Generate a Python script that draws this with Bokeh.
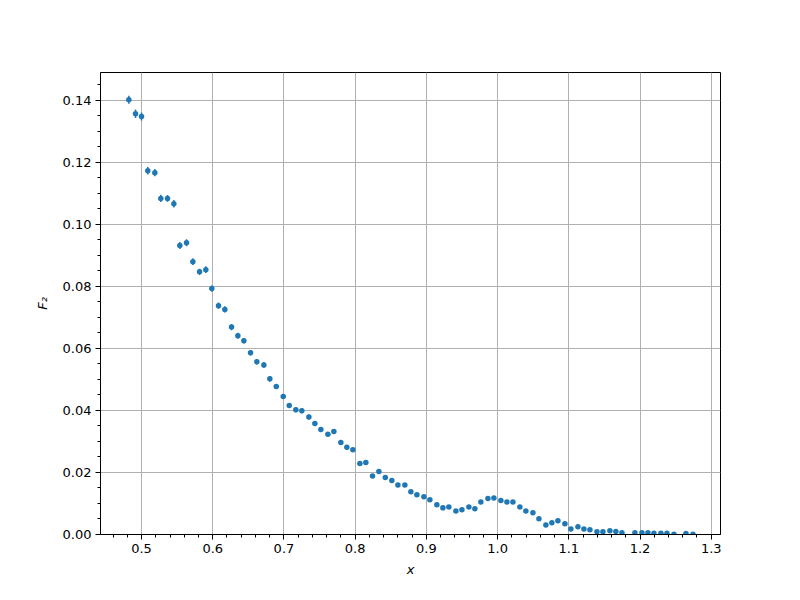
from bokeh.plotting import figure
from bokeh.models import FixedTicker, NumeralTickFormatter, ColumnDataSource
from bokeh.embed import file_html
from bokeh.resources import INLINE

x_vals = [0.4822, 0.4916, 0.5000, 0.5088, 0.5187, 0.5271, 0.5365, 0.5454, 0.5538, 0.5632,
          0.5721, 0.5815, 0.5903, 0.5987, 0.6081, 0.6170, 0.6264, 0.6353, 0.6437, 0.6531,
          0.6619, 0.6718, 0.6802, 0.6892, 0.6990, 0.7074, 0.7167, 0.7251, 0.7350, 0.7434,
          0.7518, 0.7617, 0.7701, 0.7799, 0.7883, 0.7968, 0.8066, 0.8150, 0.8244, 0.8333,
          0.8423, 0.8515, 0.8600, 0.8698, 0.8782, 0.8867, 0.8965, 0.9049, 0.9147, 0.9232,
          0.9316, 0.9414, 0.9499, 0.9597, 0.9681, 0.9765, 0.9864, 0.9948, 1.0046, 1.0131,
          1.0215, 1.0313, 1.0397, 1.0496, 1.0580, 1.0678, 1.0762, 1.0847, 1.0945, 1.1029,
          1.1128, 1.1212, 1.1296, 1.1395, 1.1479, 1.1577, 1.1661, 1.1746, 1.1928, 1.2027,
          1.2111, 1.2195, 1.2294, 1.2378, 1.2476, 1.2645, 1.2743]

f2_vals = [0.1402, 0.1357, 0.1348, 0.1173, 0.1167, 0.1084, 0.1084, 0.1067, 0.0932, 0.0941,
           0.0880, 0.0847, 0.0854, 0.0793, 0.0738, 0.0726, 0.0669, 0.0641, 0.0625, 0.0586,
           0.0557, 0.0547, 0.0502, 0.0477, 0.0445, 0.0416, 0.0402, 0.0399, 0.0379, 0.0358,
           0.0339, 0.0323, 0.0332, 0.0297, 0.0281, 0.0273, 0.0229, 0.0232, 0.0189, 0.0203,
           0.0184, 0.0174, 0.0160, 0.0160, 0.0138, 0.0128, 0.0122, 0.0112, 0.0096, 0.0086,
           0.0089, 0.0076, 0.0080, 0.0089, 0.0083, 0.0105, 0.0116, 0.0118, 0.0110, 0.0105,
           0.0105, 0.0089, 0.0076, 0.0070, 0.0051, 0.0031, 0.0038, 0.0044, 0.0035, 0.0018,
           0.0025, 0.0018, 0.0015, 0.0009, 0.0009, 0.0012, 0.0010, 0.0006, 0.0006, 0.0006,
           0.0006, 0.0004, 0.0004, 0.0004, 0.0001, 0.0003, 0.0001]

f2_err = [0.0013, 0.0014, 0.0013, 0.0012, 0.0012, 0.0012, 0.0011, 0.0012, 0.0011, 0.0011,
          0.0011, 0.0010, 0.0011, 0.0010, 0.0010, 0.0010, 0.0010, 0.0010, 0.0009, 0.0009,
          0.0009, 0.0009, 0.0009, 0.0008, 0.0008, 0.0008, 0.0008, 0.0008, 0.0008, 0.0008,
          0.0008, 0.0007, 0.0007, 0.0007, 0.0007, 0.0007, 0.0006, 0.0006, 0.0006, 0.0006,
          0.0006, 0.0006, 0.0005, 0.0005, 0.0005, 0.0005, 0.0005, 0.0005, 0.0004, 0.0004,
          0.0004, 0.0004, 0.0004, 0.0004, 0.0004, 0.0004, 0.0004, 0.0004, 0.0004, 0.0004,
          0.0004, 0.0004, 0.0004, 0.0003, 0.0003, 0.0003, 0.0003, 0.0003, 0.0003, 0.0003,
          0.0003, 0.0003, 0.0003, 0.0002, 0.0002, 0.0002, 0.0002, 0.0002, 0.0002, 0.0002,
          0.0002, 0.0002, 0.0002, 0.0002, 0.0002, 0.0002, 0.0002]

x_major = [0.5, 0.6, 0.7, 0.8, 0.9, 1.0, 1.1, 1.2, 1.3]
y_major = [0.0, 0.02, 0.04, 0.06, 0.08, 0.10, 0.12, 0.14]

src = ColumnDataSource(dict(
    x=x_vals, y=f2_vals,
    lo=[v - e for v, e in zip(f2_vals, f2_err)],
    hi=[v + e for v, e in zip(f2_vals, f2_err)],
))

FONT = "DejaVu Sans"
COLOR = "#1f77b4"

p = figure(frame_width=620, frame_height=462,
           min_border_left=100, min_border_top=72, min_border_right=72, min_border_bottom=58,
           x_range=(0.4424, 1.313), y_range=(0.0, 0.149),
           output_backend="svg", toolbar_location=None,
           background_fill_color="white", border_fill_color="white")

p.segment(x0="x", y0="lo", x1="x", y1="hi", source=src, line_color=COLOR, line_width=1.5)
p.scatter(x="x", y="y", source=src, size=5.5, fill_color=COLOR, line_color=COLOR, line_width=0)

p.outline_line_color = "black"
p.outline_line_width = 1
p.outline_line_alpha = 1

p.xaxis.ticker = FixedTicker(ticks=x_major,
                             minor_ticks=[round(0.44 + 0.02 * i, 2) for i in range(44)])
p.yaxis.ticker = FixedTicker(ticks=y_major,
                             minor_ticks=[round(0.005 * i, 3) for i in range(30)])
p.xaxis.formatter = NumeralTickFormatter(format="0.0")
p.yaxis.formatter = NumeralTickFormatter(format="0.00")

for ax in (p.xaxis, p.yaxis):
    ax.axis_line_color = "black"
    ax.axis_line_width = 1
    ax.major_tick_out = 5
    ax.major_tick_in = 0
    ax.minor_tick_out = 3
    ax.minor_tick_in = 0
    ax.major_tick_line_color = "black"
    ax.minor_tick_line_color = "black"
    ax.major_label_text_font = FONT
    ax.major_label_text_font_size = "13px"
    ax.major_label_text_color = "black"
    ax.axis_label_text_font = FONT
    ax.axis_label_text_font_size = "13px"
    ax.axis_label_text_font_style = "italic"
    ax.axis_label_text_color = "black"

p.xaxis.axis_label = "x"
p.yaxis.axis_label = "F₂"
p.xaxis.major_label_standoff = 4
p.yaxis.major_label_standoff = 4
p.xaxis.axis_label_standoff = 6
p.yaxis.axis_label_standoff = 10

p.xgrid.grid_line_color = "#b0b0b0"
p.ygrid.grid_line_color = "#b0b0b0"
p.xgrid.grid_line_width = 1
p.ygrid.grid_line_width = 1

open("out.html", "w").write(file_html(p, INLINE))
